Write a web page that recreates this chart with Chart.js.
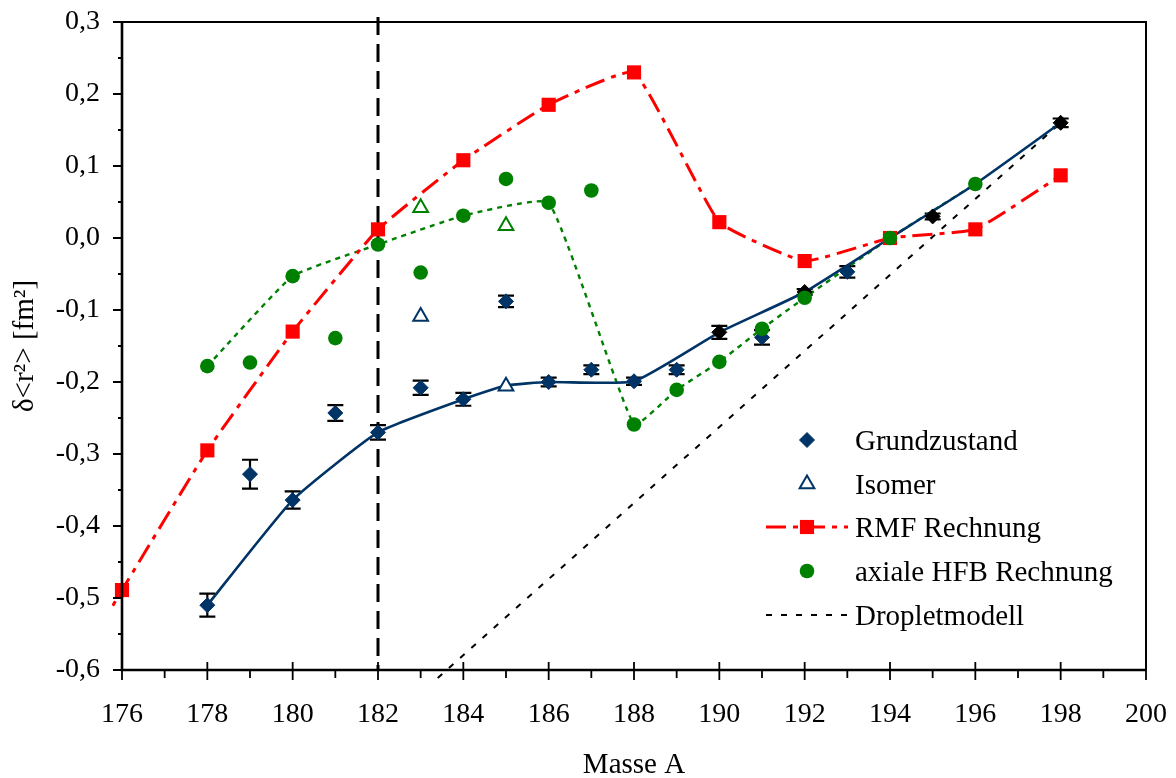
<!DOCTYPE html>
<html lang="de">
<head>
<meta charset="UTF-8" />
<title>δ&lt;r²&gt; gegen Masse A</title>
<script src="https://cdn.jsdelivr.net/npm/chart.js"></script>
<style>
  body {margin:0;background:#fff;}
  #wrap {width:1176px;height:778px;}
</style>
</head>
<body>
<div id="wrap"><canvas id="chart" width="1176" height="778"></canvas></div>
<script>
// --------- data ---------
// Grundzustand (measured, with errors)
const gzMass = [178, 179, 180, 181, 182, 183, 184, 185, 186, 187, 188, 189, 191, 193];
const gzVal  = [-0.510, -0.328, -0.364, -0.243, -0.270, -0.208, -0.224, -0.088, -0.200, -0.183, -0.199, -0.183, -0.138, -0.047];
const gzErr  = [0.016, 0.020, 0.012, 0.011, 0.010, 0.010, 0.009, 0.008, 0.006, 0.006, 0.005, 0.006, 0.010, 0.008];
// black reference points
const refMass = [190, 192, 195, 198];
const refVal  = [-0.131, -0.075, 0.030, 0.160];
const refErr  = [0.009, 0.004, 0.004, 0.006];
// Isomer (open triangles)
const isoMass   = [183, 185];
const isoVal    = [-0.109, -0.206];
const isoHfbVal = [0.042, 0.017];
// solid line through the even isotopes
const fitMass = [178, 180, 182, 184, 185, 186, 188, 190, 192, 194, 196, 198];
const fitVal  = [-0.510, -0.364, -0.270, -0.224, -0.205, -0.200, -0.199, -0.131, -0.075, 0.000, 0.075, 0.160];
// RMF Rechnung
const rmfMass = [175, 176, 178, 180, 182, 184, 186, 188, 190, 192, 194, 196, 198];
const rmfVal  = [-0.590, -0.489, -0.295, -0.130, 0.012, 0.108, 0.185, 0.230, 0.022, -0.032, 0.000, 0.012, 0.087];
// axiale HFB Rechnung
const hfbMass    = [178, 180, 182, 184, 186, 188, 189, 190, 191, 192, 194, 196];
const hfbVal     = [-0.178, -0.053, -0.009, 0.031, 0.049, -0.259, -0.211, -0.172, -0.126, -0.083, 0.000, 0.075];
const hfbOddMass = [179, 181, 183, 185, 187];
const hfbOddVal  = [-0.173, -0.139, -0.048, 0.082, 0.066];
// Dropletmodell
const dropMass = [183.4, 198];
const dropVal  = [-0.611, 0.160];
// dashed marker line at A = 182
const markMass = [182, 182];
const markVal  = [0.307, -0.6];

const NAVY = '#003366', RED = '#ff0000', GREEN = '#008000';
const FONT = '"Liberation Serif", "Times New Roman", serif';

const pts = (ms, vs) => ms.map((m, i) => ({x: m, y: vs[i]}));
const marks = (ms, vs, style, r, bg, bc, bw) => ({
  data: pts(ms, vs), showLine: false, pointStyle: style, pointRadius: r,
  pointBackgroundColor: bg, pointBorderColor: bc, pointBorderWidth: bw
});

// --------- error bars (drawn under the markers) ---------
const errorBars = {
  id: 'errorBars',
  beforeDatasetsDraw(chart) {
    const {ctx} = chart, xs = chart.scales.x, ys = chart.scales.y;
    ctx.save();
    ctx.strokeStyle = '#000';
    ctx.lineWidth = 2.2;
    const draw = (ms, vs, es) => ms.forEach((m, i) => {
      const px = xs.getPixelForValue(m);
      const t = ys.getPixelForValue(vs[i] + es[i]);
      const b = ys.getPixelForValue(vs[i] - es[i]);
      ctx.beginPath();
      ctx.moveTo(px, t); ctx.lineTo(px, b);
      ctx.moveTo(px - 8, t); ctx.lineTo(px + 8, t);
      ctx.moveTo(px - 8, b); ctx.lineTo(px + 8, b);
      ctx.stroke();
    });
    draw(gzMass, gzVal, gzErr);
    draw(refMass, refVal, refErr);
    ctx.restore();
  }
};

// --------- frame + major/minor tick marks ---------
const axisDecor = {
  id: 'axisDecor',
  afterDatasetsDraw(chart) {
    const {ctx, chartArea: a} = chart, xs = chart.scales.x, ys = chart.scales.y;
    ctx.save();
    ctx.strokeStyle = '#000';
    ctx.lineWidth = 2;
    ctx.beginPath();
    ctx.moveTo(a.left, a.top); ctx.lineTo(a.right, a.top); ctx.lineTo(a.right, a.bottom);
    ctx.stroke();
    ctx.lineWidth = 2.6;
    ctx.beginPath();
    ctx.moveTo(a.left, a.top); ctx.lineTo(a.left, a.bottom); ctx.lineTo(a.right, a.bottom);
    ctx.stroke();
    ctx.lineWidth = 1.8;
    ctx.beginPath();
    const xt = xs.ticks.map(t => t.value);
    xt.forEach((v, i) => {
      const px = xs.getPixelForValue(v);
      ctx.moveTo(px, a.bottom - 8); ctx.lineTo(px, a.bottom + 10);
      if (i < xt.length - 1) {
        const mx = xs.getPixelForValue((v + xt[i + 1]) / 2);
        ctx.moveTo(mx, a.bottom); ctx.lineTo(mx, a.bottom + 8);
      }
    });
    const yt = ys.ticks.map(t => t.value);
    yt.forEach((v, i) => {
      const py = ys.getPixelForValue(v);
      ctx.moveTo(a.left - 9, py); ctx.lineTo(a.left, py);
      if (i < yt.length - 1) {
        const my = ys.getPixelForValue((v + yt[i + 1]) / 2);
        ctx.moveTo(a.left - 4, my); ctx.lineTo(a.left, my);
      }
    });
    ctx.stroke();
    ctx.restore();
  }
};

// --------- legend inside the plot ---------
const legendRows = ['Grundzustand', 'Isomer', 'RMF Rechnung', 'axiale HFB Rechnung', 'Dropletmodell'];
const plotLegend = {
  id: 'plotLegend',
  afterDraw(chart) {
    const {ctx} = chart, ds = chart.data.datasets;
    const x0 = 766, x1 = 848, mx = 807, tx = 855;
    const rowY = [440, 484, 527, 571, 615];
    const byLabel = l => ds.find(d => d.label === l);
    const marker = (d, y) => {
      ctx.fillStyle = d.pointBackgroundColor;
      ctx.strokeStyle = d.pointBorderColor;
      ctx.lineWidth = d.pointBorderWidth;
      Chart.helpers.drawPoint(ctx, {pointStyle: d.pointStyle, radius: d.pointRadius, rotation: 0, borderWidth: d.pointBorderWidth}, mx, y);
    };
    const line = (d, y) => {
      ctx.save();
      ctx.strokeStyle = d.borderColor;
      ctx.lineWidth = d.borderWidth;
      ctx.setLineDash(d.borderDash || []);
      ctx.beginPath(); ctx.moveTo(x0, y); ctx.lineTo(x1, y); ctx.stroke();
      ctx.restore();
    };
    ctx.save();
    legendRows.forEach((lab, i) => {
      const d = byLabel(lab), y = rowY[i];
      if (d.showLine !== false && d.borderDash) line(d, y);
      if (d.pointRadius > 0) marker(d, y);
      ctx.fillStyle = '#000';
      ctx.font = '29px ' + FONT;
      ctx.textBaseline = 'alphabetic';
      ctx.textAlign = 'left';
      ctx.fillText(lab, tx, y + 10);
    });
    ctx.restore();
  }
};

const datasets = [
  Object.assign({label: 'axiale HFB Rechnung'}, marks(hfbMass.concat(hfbOddMass), hfbVal.concat(hfbOddVal), 'circle', 7.3, GREEN, GREEN, 0)),
  Object.assign({label: 'HFB Isomer'}, marks(isoMass, isoHfbVal, 'triangle', 8.5, '#fff', GREEN, 2)),
  {
    label: 'RMF Rechnung', data: pts(rmfMass, rmfVal),
    borderColor: RED, borderWidth: 3, borderDash: [20, 7, 5, 7], tension: 0.12,
    pointStyle: 'rect', pointRadius: 10, pointBackgroundColor: RED, pointBorderColor: RED, pointBorderWidth: 0,
    clip: {left: 10, top: 0, right: 0, bottom: 0}
  },
  Object.assign({label: 'Referenz'}, marks(refMass, refVal, 'rectRot', 7.5, '#000', '#000', 1)),
  Object.assign({label: 'Grundzustand'}, marks(gzMass, gzVal, 'rectRot', 7.5, NAVY, NAVY, 1)),
  Object.assign({label: 'Isomer'}, marks(isoMass, isoVal, 'triangle', 8.5, '#fff', NAVY, 2)),
  {label: 'Linie', data: pts(fitMass, fitVal), borderColor: NAVY, borderWidth: 2.6, tension: 0.15, pointRadius: 0},
  {label: 'HFB Linie', data: pts(hfbMass, hfbVal), borderColor: GREEN, borderWidth: 2.4, borderDash: [5, 5], tension: 0.12, pointRadius: 0},
  {
    label: 'Dropletmodell', data: pts(dropMass, dropVal), borderColor: '#000', borderWidth: 2,
    borderDash: [6, 9], pointRadius: 0, clip: {left: 0, top: 0, right: 0, bottom: 9}
  },
  {
    label: 'A182', data: pts(markMass, markVal), borderColor: '#000', borderWidth: 3,
    borderDash: [18, 9], pointRadius: 0, clip: {left: 0, top: 6, right: 0, bottom: 0}
  }
];

const yLabel = v => {
  const r = Math.round(v * 10) / 10;
  return (r < 0 ? '-' : '') + Math.abs(r).toFixed(1).replace('.', ',');
};

new Chart(document.getElementById('chart'), {
  type: 'line',
  data: {datasets},
  options: {
    responsive: false,
    animation: false,
    devicePixelRatio: 1,
    layout: {padding: {top: 22, right: 30, left: 0, bottom: 0}},
    plugins: {legend: {display: false}, tooltip: {enabled: false}},
    scales: {
      x: {
        type: 'linear', min: 176, max: 200,
        grid: {display: false, drawTicks: false},
        border: {display: false},
        ticks: {stepSize: 2, autoSkip: false, padding: 28, color: '#000', font: {family: FONT, size: 28}},
        title: {display: true, text: 'Masse A', color: '#000', font: {family: FONT, size: 29}, padding: {top: 0, bottom: -5}},
        afterFit: s => { s.height = 108; s.paddingLeft = 0; s.paddingRight = 0; }
      },
      y: {
        min: -0.6, max: 0.3,
        grid: {display: false, drawTicks: false},
        border: {display: false},
        ticks: {stepSize: 0.1, padding: 22, color: '#000', font: {family: FONT, size: 28}, callback: yLabel},
        title: {display: true, text: 'δ<r²> [fm²]', color: '#000', font: {family: FONT, size: 29}, padding: {top: 8, bottom: 0}},
        afterFit: s => { s.width = 122; s.paddingTop = 0; s.paddingBottom = 0; }
      }
    }
  },
  plugins: [errorBars, axisDecor, plotLegend]
});
</script>
</body>
</html>
